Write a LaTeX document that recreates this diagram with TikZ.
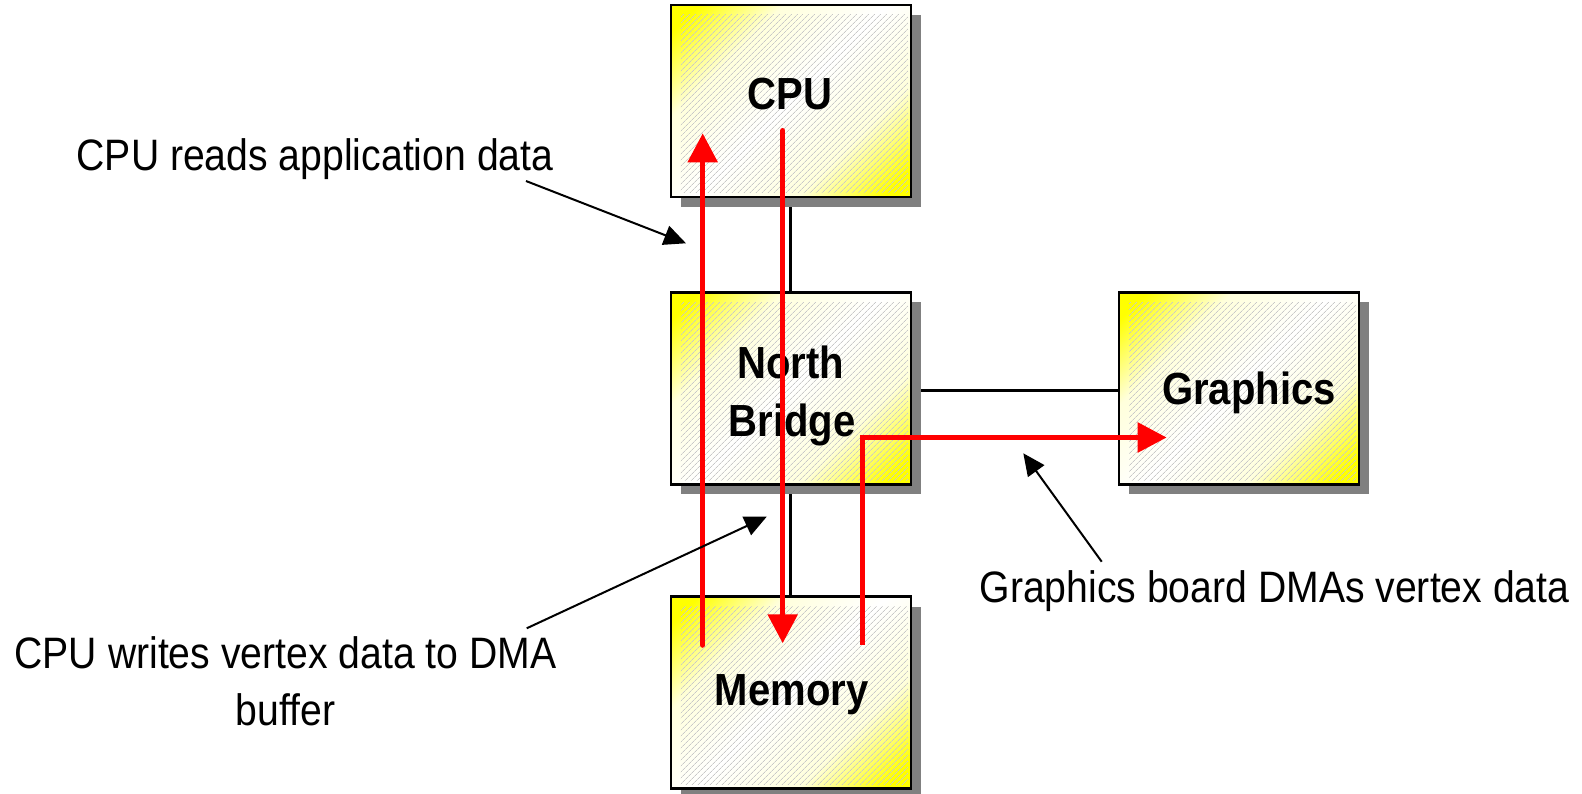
\documentclass[tikz,border=0pt]{standalone}
\usepackage{fontspec}
\setmainfont{Liberation Sans}[FakeStretch=0.89]
\usetikzlibrary{arrows.meta,patterns.meta,backgrounds}
\definecolor{shadowgray}{RGB}{128,128,128}
\definecolor{hatchgray}{RGB}{200,200,200}
\pgfdeclarehorizontalshading{yellowdiag}{100bp}{color(0bp)=(yellow); color(19bp)=(yellow); color(33bp)=(yellow!14); color(50bp)=(white); color(67bp)=(yellow!14); color(81bp)=(yellow); color(100bp)=(yellow)}
\begin{document}
\begin{tikzpicture}[x=1pt,y=-1pt,
  box/.style={draw=black, line width=2.5pt, minimum width=240pt, minimum height=192pt,
    inner sep=0pt, outer sep=0pt,
    path picture={
      \shade[shading=yellowdiag, shading angle=-45]
        (path picture bounding box.south west) rectangle (path picture bounding box.north east);
      \fill[pattern={Lines[angle=45,distance=4pt,line width=0.8pt]}, pattern color=hatchgray]
        ([xshift=10pt,yshift=-10pt]path picture bounding box.north west) rectangle
        ([xshift=-3pt,yshift=4pt]path picture bounding box.south east);
    }},
  boxlbl/.style={font=\fontsize{45}{58}\selectfont\bfseries, anchor=base, inner sep=0pt},
  note/.style={font=\fontsize{44}{57}\selectfont, anchor=base, inner sep=0pt},
  flow/.style={draw=red, line width=5.5pt, line cap=round, -{Triangle[length=29pt,width=29pt]}},
  pointer/.style={draw=black, line width=2pt, -{Triangle[length=22pt,width=20pt]}},
  link/.style={draw=black, line width=3pt},
  shadowbox/.style={fill=shadowgray}]

\useasboundingbox (0,0) rectangle (1582,793);

% boxes
\node[box] (cpu) at (790.85,100.85) {};
\node[box] (nb)  at (790.85,388.3) {};
\node[box] (gfx) at (1239,388.3) {};
\node[box] (mem) at (790.85,692.5) {};

% connections and shadows behind the boxes
\begin{scope}[on background layer]
  \coordinate (cpuline) at (790,196);
  \coordinate (nbtop) at (790,292);
  \coordinate (nbbot) at (790,484);
  \coordinate (memtop) at (790,597);
  \draw[link] (cpuline) -- (nbtop);
  \draw[link] (nbbot) -- (memtop);
  \draw[link] (nb.center |- 0,390) -- (gfx.west |- 0,390);
  \foreach \b in {cpu,nb,gfx,mem}{
    \fill[shadowbox] ([shift={(10,10)}]\b.north west) rectangle ([shift={(10,10)}]\b.south east);
  }
\end{scope}

% box labels
\node[boxlbl] (cpulbl) at (789.7,109) {CPU};
\node[boxlbl] (nblbl1) at (790.8,378.3) {North};
\node[boxlbl] (nblbl2) at (792,436.7) {Bridge};
\node[boxlbl] (gfxlbl) at (1249,404.3) {Graphics};
\node[boxlbl] (memlbl) at (791.7,705) {Memory};

% red data flows
\coordinate (r1s) at (702.7,645);
\coordinate (r1e) at (702.7,133.3);
\coordinate (r2s) at (782.7,130.7);
\coordinate (r2e) at (782.7,643.3);
\coordinate (r3s) at (862.3,645);
\coordinate (r3c) at (862.3,437.5);
\coordinate (r3e) at (1166.7,437.5);
\draw[flow] (r1s) -- (r1e);
\draw[flow] (r2s) -- (r2e);
\draw[flow, line cap=butt] (r3s) -- (r3c) -- (r3e);

% annotations
\node[note] (n1) at (315,170) {CPU reads application data};
\node[note] (n2a) at (285.5,668) {CPU writes vertex data to DMA};
\node[note] (n2b) at (285.5,725) {buffer};
\node[note] (n3) at (1274.5,602) {Graphics board DMAs vertex data};

\coordinate (p1s) at (526,181);
\coordinate (p1e) at (686,243.3);
\coordinate (p2s) at (526.7,628.3);
\coordinate (p2e) at (766.7,516.7);
\coordinate (p3s) at (1101.7,561.7);
\coordinate (p3e) at (1023.3,453.3);
\draw[pointer] (p1s) -- (p1e);
\draw[pointer] (p2s) -- (p2e);
\draw[pointer] (p3s) -- (p3e);
\end{tikzpicture}
\end{document}
